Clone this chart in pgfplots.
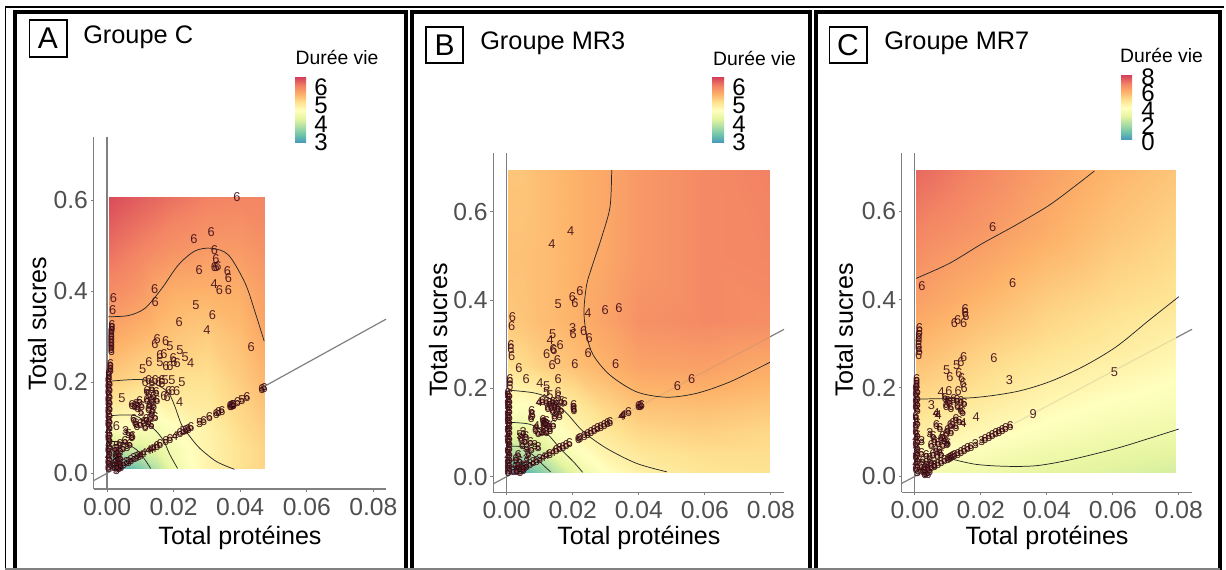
\documentclass[border=0pt]{standalone}
\usepackage{fontspec}
\setmainfont{Liberation Sans}
\usepackage{pgfplots}
\pgfplotsset{compat=1.18}
\definecolor{tk}{HTML}{4F4F4F}
\definecolor{ax}{HTML}{808080}
\definecolor{dg}{HTML}{45101A}
\definecolor{pk}{HTML}{E0505A}
\definecolor{spA}{RGB}{68,150,190}
\definecolor{spB}{RGB}{110,195,170}
\definecolor{spC}{RGB}{172,222,165}
\definecolor{spD}{RGB}{230,245,160}
\definecolor{spE}{RGB}{255,255,190}
\definecolor{spF}{RGB}{254,226,145}
\definecolor{spG}{RGB}{253,178,105}
\definecolor{spH}{RGB}{243,132,100}
\definecolor{spI}{RGB}{215,70,90}
\pgfdeclareverticalshading{spec}{100bp}{
 color(0bp)=(spA);color(25bp)=(spA);color(31.25bp)=(spB);color(37.5bp)=(spC);color(43.75bp)=(spD);color(50bp)=(spE);color(56.25bp)=(spF);color(62.5bp)=(spG);color(68.75bp)=(spH);color(75bp)=(spI);color(100bp)=(spI)}
\newcommand\PP[2]{({#1*0.75pt},{(570-#2)*0.75pt})}
\newcommand\fs[1]{\fontsize{#1pt}{#1pt}\selectfont}
\pgfplotsset{
 colormap={spectral}{rgb255=(68,150,190) rgb255=(110,195,170) rgb255=(172,222,165) rgb255=(230,245,160) rgb255=(255,255,190) rgb255=(254,226,145) rgb255=(253,178,105) rgb255=(243,132,100) rgb255=(215,70,90)},
 panel/.style={
  scale only axis, anchor=south west, clip=false,
  axis x line*=bottom, axis y line*=left,
  axis line style={ax,line width=0.9pt,-},
  tick style={ax,line width=0.7pt}, major tick length=2.2pt, tick align=outside,
  scaled x ticks=false, scaled y ticks=false,
  xtick={0,0.02,0.04,0.06,0.08}, ytick={0,0.2,0.4,0.6},
  xticklabel style={/pgf/number format/.cd,fixed,fixed zerofill,precision=2,assume math mode=true,/tikz/.cd,font=\fs{18.5},text=tk,inner sep=0pt,yshift=-4.5pt},
  yticklabel style={/pgf/number format/.cd,fixed,fixed zerofill,precision=1,assume math mode=true,/tikz/.cd,font=\fs{18.5},text=tk,inner sep=0pt,xshift=-1.8pt},
  xlabel={Total protéines}, ylabel={Total sucres},
  point meta min=0, point meta max=1,
 },
 heat/.style={surf,shader=interp,mesh/cols=#1,point meta=explicit},
 lbl/.style={nodes near coords, nodes near coords align={center}, point meta=explicit symbolic,
  nodes near coords style={font=\fs{9.6},text=dg,text opacity=0.92,anchor=center,inner sep=0pt}},
 sparse/.style={only marks,mark=none,lbl},
 dense/.style={only marks,mark=*,mark size=1.5pt,mark options={draw=none,fill=pk,fill opacity=0.35},lbl},
 cont/.style={black!85,line width=0.55pt,smooth,no marks},
 gline/.style={ax,line width=0.9pt,no marks},
}
\begin{document}
\begin{tikzpicture}
\path[use as bounding box] \PP{0}{0} rectangle \PP{1226}{570};
% ---------- Panel A
\begin{axis}[panel, at={(70.125pt,60.75pt)}, width=219.375pt, height=264pt,
 xmin=-0.00406,xmax=0.0838,ymin=-0.0352,ymax=0.7385,
 every axis x label/.style={at={(axis description cs:0.5009,-0.1392)},anchor=center,font=\fs{18.8}},
 every axis y label/.style={at={(axis description cs:-0.193,0.469)},rotate=90,anchor=center,font=\fs{18.8}}]
\addplot[gline] coordinates {(0,-0.0352)(0,0.7385)};
\addplot[gline] coordinates {(-0.00406,-0.017)(0.0838,0.338)};
\addplot[heat=8] table[row sep=\\,x=x,y=y,meta=t]{x y t\\
0.0005 0.01 .03\\.005 0.01 .08\\.01 0.01 .16\\.015 0.01 .28\\.02 0.01 .42\\.03 0.01 .55\\.04 0.01 .62\\.0472 0.01 .66\\
0.0005 0.05 .25\\.005 0.05 .30\\.01 0.05 .33\\.015 0.05 .38\\.02 0.05 .45\\.03 0.05 .55\\.04 0.05 .62\\.0472 0.05 .66\\
0.0005 0.1 .50\\.005 0.1 .50\\.01 0.1 .48\\.015 0.1 .46\\.02 0.1 .50\\.03 0.1 .56\\.04 0.1 .64\\.0472 0.1 .68\\
0.0005 0.2 .68\\.005 0.2 .66\\.01 0.2 .64\\.015 0.2 .62\\.02 0.2 .62\\.03 0.2 .62\\.04 0.2 .68\\.0472 0.2 .73\\
0.0005 0.3 .78\\.005 0.3 .76\\.01 0.3 .74\\.015 0.3 .72\\.02 0.3 .70\\.03 0.3 .68\\.04 0.3 .72\\.0472 0.3 .78\\
0.0005 0.4 .85\\.005 0.4 .84\\.01 0.4 .82\\.015 0.4 .78\\.02 0.4 .76\\.03 0.4 .75\\.04 0.4 .76\\.0472 0.4 .80\\
0.0005 0.5 .92\\.005 0.5 .90\\.01 0.5 .88\\.015 0.5 .86\\.02 0.5 .84\\.03 0.5 .82\\.04 0.5 .82\\.0472 0.5 .84\\
0.0005 0.606 .99\\.005 0.606 .97\\.01 0.606 .95\\.015 0.606 .93\\.02 0.606 .91\\.03 0.606 .88\\.04 0.606 .87\\.0472 0.606 .87\\
};
\addplot[cont] coordinates {(.0004,.3435)(.0064,.346)(.0114,.362)(.0164,.405)(.0214,.457)(.0264,.488)(.0314,.494)(.0365,.479)(.0415,.417)(.0445,.353)(.0472,.29)};
\addplot[cont] coordinates {(.0014,.202)(.0109,.205)(.0169,.186)(.0189,.171)(.0204,.146)(.0224,.106)(.0249,.080)(.0279,.054)(.0329,.025)(.0383,.008)};
\addplot[cont] coordinates {(.0012,.126)(.0084,.126)(.0139,.098)(.0169,.072)(.0189,.040)(.0212,.01)};
\addplot[cont] coordinates {(.0012,.069)(.0049,.067)(.0089,.051)(.0114,.029)(.0131,.01)};
\addplot[sparse] table[row sep=\\,x=x,y=y,meta=d]{x y d\\
.0390 .606 6\\.0313 .530 6\\.0261 .515 6\\.0323 .489 6\\.0327 .470 6\\.0323 .452 6\\.0333 .455 6\\.0328 .452 6\\.0277 .446 6\\.0362 .443 6\\.0365 .429 6\\.0322 .415 4\\.0338 .401 6\\.0365 .401 6\\.0143 .404 6\\.0145 .376 6\\.0019 .384 6\\.0017 .357 6\\.0267 .368 5\\.0317 .347 6\\.0217 .331 6\\.0300 .313 4\\.0433 .276 6\\
.0144 .283 6\\.0151 .295 6\\.0176 .290 6\\.0189 .279 5\\.0219 .270 5\\.0235 .254 5\\.0251 .241 4\\.0159 .260 6\\.0171 .262 6\\.0126 .243 6\\.0159 .243 5\\.0177 .234 6\\.0189 .235 6\\.0199 .253 6\\.0201 .243 6\\.0211 .241 6\\.0107 .228 5\\.0195 .203 5\\.0225 .200 5\\.0185 .181 6\\.0196 .180 6\\.0209 .180 6\\.0171 .168 6\\.0181 .167 6\\.0218 .155 4\\.0045 .164 5\\.0028 .104 6\\
.0115 .199 6\\.0125 .205 6\\.0135 .199 6\\.0145 .205 6\\.0155 .199 6\\.0165 .205 6\\.0165 .197 6\\.0175 .205 5\\
};
\addplot[dense] table[row sep=\\,x=x,y=y,meta=d]{x y d\\
.0015 .325 6\\.0015 .318 6\\.0013 .311 6\\.0013 .304 6\\.0013 .297 6\\.0013 .290 6\\.0013 .283 6\\.0013 .276 6\\.0013 .269 6\\.0010 .240 6\\.0010 .233 6\\.0010 .226 6\\.0006 .219 6\\.0006 .212 6\\
.0004 .205 6\\.0008 .198 6\\.0004 .191 6\\.0008 .184 6\\.0004 .177 6\\.0008 .170 6\\.0004 .163 6\\.0008 .156 6\\.0004 .149 5\\.0008 .142 6\\.0004 .135 6\\.0008 .128 6\\.0004 .121 5\\.0008 .114 6\\.0004 .107 6\\.0008 .100 6\\.0004 .093 4\\.0008 .086 6\\.0004 .079 6\\.0008 .072 6\\.0004 .065 3\\.0008 .058 6\\.0004 .051 6\\.0008 .044 6\\.0004 .037 4\\.0008 .030 6\\.0004 .023 6\\.0008 .016 3\\.0004 .010 6\\
.0120 .180 6\\.0135 .185 6\\.0148 .178 6\\.0125 .170 5\\.0140 .168 6\\.0120 .160 6\\.0135 .158 6\\.0150 .160 6\\.0128 .150 6\\.0140 .148 6\\.0125 .140 6\\.0137 .138 5\\.0135 .130 6\\.0145 .122 6\\
.0075 .150 6\\.0083 .146 6\\.0090 .152 5\\.0098 .158 6\\.0092 .143 6\\.0104 .148 6\\.0102 .133 5\\
.0080 .118 6\\.0085 .110 6\\.0090 .104 6\\.0100 .107 6\\.0110 .112 6\\.0118 .118 6\\.0125 .110 6\\.0130 .120 6\\.0133 .105 6\\.0115 .100 6\\
.0056 .093 3\\.0064 .0862 5\\.0076 .082 6\\.0074 .078 6\\.0054 .0695 6\\.0039 .0636 6\\.0029 .0589 5\\
.0022 .012 6\\.0028 .006 3\\.0035 .010 6\\.0042 .014 6\\.0022 .020 6\\.0030 .018 6\\.0038 .022 6\\.0025 .028 3\\.0033 .030 6\\.0040 .032 6\\.0027 .038 6\\.0036 .040 6\\.0030 .046 6\\.0040 .050 6\\.0048 .054 5\\.0024 .052 6\\.0060 .058 3\\.0068 .063 6\\
.0030 .012 6\\.0040 .016 3\\.0050 .020 6\\.0058 .023 3\\.0064 .025 3\\.0072 .028 3\\.0080 .032 2\\.0088 .035 3\\.0095 .038 3\\.0102 .040 4\\.0110 .044 4\\.0125 .050 4\\.0133 .053 4\\.0140 .055 4\\.0150 .059 6\\.0159 .063 6\\.0176 .070 6\\.0189 .075 6\\.0204 .081 4\\.0219 .087 6\\.0229 .091 5\\.0237 .094 6\\.0244 .097 6\\.0252 .100 6\\.0278 .110 5\\.0290 .115 6\\.0308 .122 6\\.0328 .130 6\\.0335 .133 6\\.0345 .137 6\\.0370 .147 6\\.0373 .148 6\\.0376 .149 6\\.0378 .150 6\\.0380 .150 6\\.0392 .155 6\\.0405 .160 5\\.0420 .166 6\\.0465 .184 6\\.0472 .187 6\\
};
\end{axis}
% ---------- Panel B
\begin{axis}[panel, at={(369.975pt,58.275pt)}, width=218.025pt, height=254.475pt,
 xmin=-0.00406,xmax=0.0840,ymin=-0.0353,ymax=0.733,
 every axis x label/.style={at={(axis description cs:0.501,-0.1347)},anchor=center,font=\fs{18.8}},
 every axis y label/.style={at={(axis description cs:-0.190,0.478)},rotate=90,anchor=center,font=\fs{18.8}}]
\addplot[gline] coordinates {(0,-0.0353)(0,0.733)};
\addplot[gline] coordinates {(-0.00406,-0.016)(0.084,0.3336)};
\addplot[heat=9] table[row sep=\\,x=x,y=y,meta=t]{x y t\\
.0003 .009 .02\\.005 .009 .07\\.01 .009 .16\\.015 .009 .27\\.02 .009 .37\\.03 .009 .50\\.04 .009 .56\\.06 .009 .61\\.0797 .009 .62\\
.0003 .05 .25\\.005 .05 .25\\.01 .05 .30\\.015 .05 .40\\.02 .05 .46\\.03 .05 .55\\.04 .05 .60\\.06 .05 .63\\.0797 .05 .63\\
.0003 .1 .40\\.005 .1 .38\\.01 .1 .42\\.015 .1 .48\\.02 .1 .53\\.03 .1 .60\\.04 .1 .65\\.06 .1 .67\\.0797 .1 .65\\
.0003 .15 .50\\.005 .15 .48\\.01 .15 .50\\.015 .15 .54\\.02 .15 .58\\.03 .15 .65\\.04 .15 .70\\.06 .15 .71\\.0797 .15 .69\\
.0003 .25 .62\\.005 .25 .64\\.01 .25 .67\\.015 .25 .69\\.02 .25 .71\\.03 .25 .75\\.04 .25 .79\\.06 .25 .80\\.0797 .25 .77\\
.0003 .35 .69\\.005 .35 .70\\.01 .35 .72\\.015 .35 .73\\.02 .35 .75\\.03 .35 .79\\.04 .35 .84\\.06 .35 .86\\.0797 .35 .85\\
.0003 .5 .71\\.005 .5 .71\\.01 .5 .72\\.015 .5 .73\\.02 .5 .75\\.03 .5 .78\\.04 .5 .82\\.06 .5 .86\\.0797 .5 .87\\
.0003 .694 .70\\.005 .694 .70\\.01 .694 .72\\.015 .694 .73\\.02 .694 .75\\.03 .694 .78\\.04 .694 .82\\.06 .694 .86\\.0797 .694 .88\\
};
\addplot[ax,opacity=0.18,line width=0.9pt,no marks] coordinates {(0.03,0.119)(0.0797,0.3165)};
\addplot[cont] coordinates {(.0318,.694)(.0313,.611)(.0288,.543)(.0258,.475)(.0242,.434)(.0234,.3736)(.0242,.321)(.0262,.2755)(.0313,.230)(.0394,.192)(.0485,.180)(.0576,.189)(.0677,.215)(.0797,.259)};
\addplot[cont] coordinates {(.0005,.196)(.0081,.190)(.0131,.177)(.0182,.1435)(.0232,.102)(.0303,.064)(.0394,.030)(.0485,.011)};
\addplot[cont] coordinates {(.001,.123)(.0071,.1186)(.0121,.098)(.0162,.064)(.0202,.034)(.023,.01)};
\addplot[cont] coordinates {(.001,.069)(.0045,.067)(.0086,.045)(.0111,.026)(.0133,.011)};
\addplot[sparse] table[row sep=\\,x=x,y=y,meta=d]{x y d\\
.0194 .557 4\\.0137 .527 4\\.0222 .421 6\\.0199 .407 6\\.0207 .392 6\\.0156 .391 5\\.0017 .362 6\\.0015 .341 6\\.0246 .370 4\\.0298 .377 6\\.0340 .382 6\\.0200 .336 3\\.0201 .324 6\\.0233 .330 6\\.0250 .313 6\\.0139 .323 5\\.0132 .310 4\\.0162 .298 6\\.0013 .298 6\\.0013 .290 6\\.0141 .290 6\\.0247 .280 6\\
.0015 .274 6\\.0037 .247 6\\.0059 .222 6\\.0010 .222 6\\.0010 .214 6\\.0010 .206 6\\.0156 .222 6\\.0121 .278 6\\.0143 .287 6\\.0138 .253 6\\.0154 .265 6\\.0207 .255 6\\.0330 .255 6\\.0517 .205 6\\.0560 .222 6\\
.0101 .211 4\\.0121 .204 5\\.0121 .192 5\\.0156 .191 6\\.0156 .180 6\\.0131 .185 5\\
};
\addplot[dense] table[row sep=\\,x=x,y=y,meta=d]{x y d\\
.0004 .190 6\\.0008 .184 6\\.0004 .178 5\\.0008 .172 6\\.0004 .166 6\\.0008 .160 6\\.0004 .154 5\\.0008 .148 6\\.0004 .142 6\\.0008 .136 6\\.0004 .130 6\\.0008 .124 6\\.0004 .118 5\\.0008 .112 6\\.0004 .106 6\\.0008 .100 6\\.0004 .094 4\\.0008 .088 6\\.0004 .082 6\\.0008 .076 6\\.0004 .070 3\\.0008 .064 6\\.0004 .058 6\\.0008 .052 6\\.0004 .046 4\\.0008 .040 6\\.0004 .034 6\\.0008 .028 3\\.0004 .022 6\\.0008 .016 6\\.0004 .010 6\\
.0098 .168 4\\.0108 .172 6\\.0120 .170 6\\.0130 .166 6\\.0140 .170 6\\.0150 .168 6\\.0165 .170 5\\.0175 .168 6\\.0125 .155 6\\.0135 .158 6\\.0145 .160 6\\.0155 .155 6\\.0165 .150 6\\.0140 .148 6\\.0150 .145 5\\.0160 .138 6\\.0145 .135 6\\.0203 .162 6\\.0203 .155 6\\.0204 .150 6\\
.0076 .148 6\\.0078 .140 6\\.0074 .133 6\\.0110 .128 6\\.0115 .122 6\\.0120 .126 6\\.0112 .118 6\\.0125 .118 6\\.0130 .110 6\\.0113 .124 3\\.0118 .120 6\\
.0090 .115 4\\.0088 .105 6\\.0095 .098 6\\.0105 .100 3\\.0112 .104 6\\.0120 .100 6\\.0141 .117 6\\.0131 .106 6\\
.0040 .095 5\\.0050 .100 3\\.0058 .092 6\\.0044 .085 6\\.0055 .080 5\\.0048 .072 6\\.0060 .065 3\\.0072 .078 6\\.0085 .072 3\\.0075 .062 6\\.0095 .066 3\\.0065 .050 5\\.0060 .040 3\\
.0035 .050 6\\.0028 .040 6\\.0040 .035 6\\.0025 .028 3\\.0035 .022 6\\.0045 .025 6\\.0030 .015 6\\.0020 .012 6\\.0040 .010 6\\.0050 .014 6\\.0055 .022 3\\
.0030 .012 6\\.0040 .016 3\\.0050 .020 6\\.0060 .024 3\\.0070 .028 3\\.0080 .032 3\\.0090 .036 6\\.0100 .040 3\\.0110 .044 4\\.0120 .048 4\\.0130 .052 6\\.0140 .056 4\\.0150 .060 6\\.0160 .064 6\\.0170 .067 6\\.0180 .071 6\\.0190 .075 6\\.0217 .086 6\\.0222 .088 6\\.0235 .093 6\\.0245 .097 6\\.0255 .101 6\\.0265 .105 6\\.0275 .109 6\\.0285 .113 6\\.0295 .117 6\\.0305 .121 6\\.0313 .124 6\\.0348 .138 4\\.0353 .140 4\\.0369 .146 6\\.0400 .159 6\\.0404 .160 6\\.0408 .162 6\\
};
\end{axis}
% ---------- Panel C
\begin{axis}[panel, at={(676.275pt,58.275pt)}, width=217.725pt, height=254.475pt,
 xmin=-0.00394,xmax=0.0840,ymin=-0.0362,ymax=0.7319,
 every axis x label/.style={at={(axis description cs:0.5005,-0.1347)},anchor=center,font=\fs{18.8}},
 every axis y label/.style={at={(axis description cs:-0.1988,0.478)},rotate=90,anchor=center,font=\fs{18.8}}]
\addplot[gline] coordinates {(0,-0.0362)(0,0.7319)};
\addplot[gline] coordinates {(-0.00394,-0.016)(0.084,0.3328)};
\addplot[heat=5] table[row sep=\\,x=x,y=y,meta=t]{x y t\\
.0004 .009 .45\\.02 .009 .42\\.04 .009 .38\\.06 .009 .36\\.079 .009 .34\\
.0004 .05 .50\\.02 .05 .47\\.04 .05 .42\\.06 .05 .39\\.079 .05 .37\\
.0004 .1 .58\\.02 .1 .53\\.04 .1 .48\\.06 .1 .44\\.079 .1 .42\\
.0004 .2 .67\\.02 .2 .62\\.04 .2 .56\\.06 .2 .52\\.079 .2 .49\\
.0004 .3 .74\\.02 .3 .68\\.04 .3 .63\\.06 .3 .59\\.079 .3 .55\\
.0004 .4 .80\\.02 .4 .74\\.04 .4 .68\\.06 .4 .64\\.079 .4 .61\\
.0004 .55 .87\\.02 .55 .82\\.04 .55 .76\\.06 .55 .70\\.079 .55 .66\\
.0004 .694 .93\\.02 .694 .87\\.04 .694 .80\\.06 .694 .74\\.079 .694 .70\\
};
\addplot[ax,opacity=0.18,line width=0.9pt,no marks] coordinates {(0.03,0.119)(0.079,0.3129)};
\addplot[cont] coordinates {(.0004,.448)(.0105,.482)(.0206,.5275)(.0307,.569)(.0408,.614)(.0489,.659)(.0544,.691)};
\addplot[cont] coordinates {(.0004,.175)(.0176,.178)(.0307,.1916)(.0408,.214)(.0509,.248)(.061,.293)(.0711,.354)(.08,.4066)};
\addplot[cont] coordinates {(.0115,.0385)(.0186,.027)(.0277,.0226)(.0368,.024)(.0469,.037)(.061,.063)(.0711,.086)(.08,.107)};
\addplot[sparse] table[row sep=\\,x=x,y=y,meta=d]{x y d\\
.0236 .565 6\\.0297 .438 6\\.0022 .431 6\\.0120 .346 6\\.0130 .354 6\\.0148 .347 6\\.0155 .363 6\\.0153 .379 6\\.0153 .370 6\\
.0014 .335 6\\.0014 .327 6\\.0013 .320 6\\.0013 .312 6\\.0012 .305 6\\.0012 .297 6\\.0012 .290 6\\.0014 .283 6\\.0012 .275 6\\
.0240 .267 6\\.0287 .218 3\\.0605 .2368 5\\.0359 .141 9\\.0097 .2407 5\\.0107 .224 6\\.0127 .252 5\\.0140 .259 6\\.0148 .269 6\\.0134 .233 6\\.0142 .222 6\\.0147 .211 6\\.0150 .199 6\\.0080 .190 4\\.0104 .193 6\\.0132 .192 6\\.0186 .133 4\\.0051 .162 3\\
};
\addplot[dense] table[row sep=\\,x=x,y=y,meta=d]{x y d\\
.0006 .220 6\\.0006 .213 6\\.0006 .206 6\\.0004 .199 6\\.0008 .192 6\\.0004 .185 6\\.0008 .178 6\\.0004 .171 6\\.0008 .164 6\\.0004 .157 6\\.0008 .150 6\\.0004 .136 6\\.0004 .128 5\\.0008 .120 6\\.0004 .113 6\\.0004 .100 6\\.0008 .093 6\\.0004 .086 4\\.0008 .079 6\\.0004 .072 6\\.0008 .065 6\\.0004 .058 3\\.0008 .051 6\\.0004 .044 6\\.0008 .037 6\\.0004 .030 4\\.0008 .023 6\\.0004 .016 6\\.0008 .010 3\\
.0092 .178 6\\.0100 .170 6\\.0095 .160 6\\.0105 .168 6\\.0110 .155 6\\.0118 .175 6\\.0128 .172 6\\.0140 .170 6\\.0150 .165 6\\.0130 .158 6\\.0140 .150 6\\.0145 .145 6\\.0125 .130 6\\.0135 .125 6\\.0115 .120 6\\.0125 .112 6\\.0108 .115 6\\.0100 .105 6\\.0110 .100 6\\.0095 .095 6\\.0085 .090 6\\.0090 .082 6\\.0080 .085 6\\.0100 .075 6\\.0085 .070 6\\.0147 .120 4\\
.0065 .143 4\\.0071 .139 4\\.0066 .117 6\\.0076 .109 6\\.0046 .098 3\\.0056 .090 6\\.0060 .080 6\\.0070 .075 6\\.0050 .070 6\\.0065 .060 6\\.0075 .058 6\\.0055 .050 6\\.0068 .045 6\\.0080 .050 6\\.0021 .080 3\\.0097 .073 3\\
.0020 .052 6\\.0035 .048 6\\.0045 .042 6\\.0025 .035 6\\.0035 .030 6\\.0050 .032 6\\.0020 .022 6\\.0030 .018 6\\.0040 .020 6\\.0025 .012 6\\.0035 .008 6\\.0045 .012 6\\.0030 .004 6\\.0040 .006 6\\.0060 .025 6\\
.0030 .012 6\\.0040 .016 6\\.0050 .020 6\\.0060 .024 6\\.0070 .028 6\\.0080 .032 6\\.0090 .036 6\\.0100 .040 6\\.0105 .042 6\\.0110 .044 6\\.0115 .046 6\\.0120 .048 6\\.0130 .051 6\\.0140 .055 6\\.0150 .059 6\\.0160 .063 6\\.0170 .067 6\\.0184 .073 3\\.0203 .080 3\\.0213 .084 6\\.0225 .089 6\\.0235 .093 6\\.0245 .097 6\\.0255 .101 6\\.0265 .105 6\\.0275 .109 6\\.0289 .114 6\\
};
\end{axis}
% ---------- Titles, legends
\draw[black,line width=0.95pt] \PP{29.5}{20} rectangle \PP{67}{57};
\node[font=\fs{22.5},inner sep=0pt] at \PP{48}{38.5} {A};
\node[font=\fs{19},inner sep=0pt,anchor=west] at \PP{83}{37} {Groupe C};
\draw[black,line width=0.95pt] \PP{426}{27} rectangle \PP{463}{63};
\node[font=\fs{22.5},inner sep=0pt] at \PP{444.5}{45} {B};
\node[font=\fs{19},inner sep=0pt,anchor=west] at \PP{480}{43} {Groupe MR3};
\draw[black,line width=0.95pt] \PP{829.5}{27} rectangle \PP{867}{63};
\node[font=\fs{22.5},inner sep=0pt] at \PP{848}{45} {C};
\node[font=\fs{19},inner sep=0pt,anchor=west] at \PP{884}{43} {Groupe MR7};
% legends
\node[font=\fs{14.5},inner sep=0pt] at \PP{337}{57} {Durée vie};
\path[shading=spec] \PP{295}{143} rectangle \PP{306}{78};
\foreach \v/\y in {6/87,5/105,4/124,3/142}{\node[font=\fs{18},inner sep=0pt] at \PP{321}{\y} {\v};}
\node[font=\fs{14.5},inner sep=0pt] at \PP{754.5}{58} {Durée vie};
\path[shading=spec] \PP{712}{143} rectangle \PP{724}{78};
\foreach \v/\y in {6/87,5/105,4/124,3/142}{\node[font=\fs{18},inner sep=0pt] at \PP{739}{\y} {\v};}
\node[font=\fs{14.5},inner sep=0pt] at \PP{1161.5}{55} {Durée vie};
\path[shading=spec] \PP{1121}{140} rectangle \PP{1132}{76};
\foreach \v/\y in {8/77,6/93,4/110,2/126,0/142}{\node[font=\fs{18},inner sep=0pt] at \PP{1148}{\y} {\v};}
% frames
\draw[black,line width=1.1pt] \PP{5}{7} -- \PP{1224}{7};
\draw[black,line width=1.1pt] \PP{5.5}{7} -- \PP{5.5}{570};
\draw[black,line width=3pt] \PP{14.5}{570} -- \PP{14.5}{12} -- \PP{405.5}{12} -- \PP{405.5}{570};
\draw[black,line width=3pt] \PP{412}{570} -- \PP{412}{12} -- \PP{809.5}{12} -- \PP{809.5}{570};
\draw[black,line width=3pt] \PP{816}{570} -- \PP{816}{12} -- \PP{1220}{12} -- \PP{1220}{570};
\draw[ax,line width=0.9pt] \PP{5}{569} -- \PP{1220}{569};
\end{tikzpicture}
\end{document}
